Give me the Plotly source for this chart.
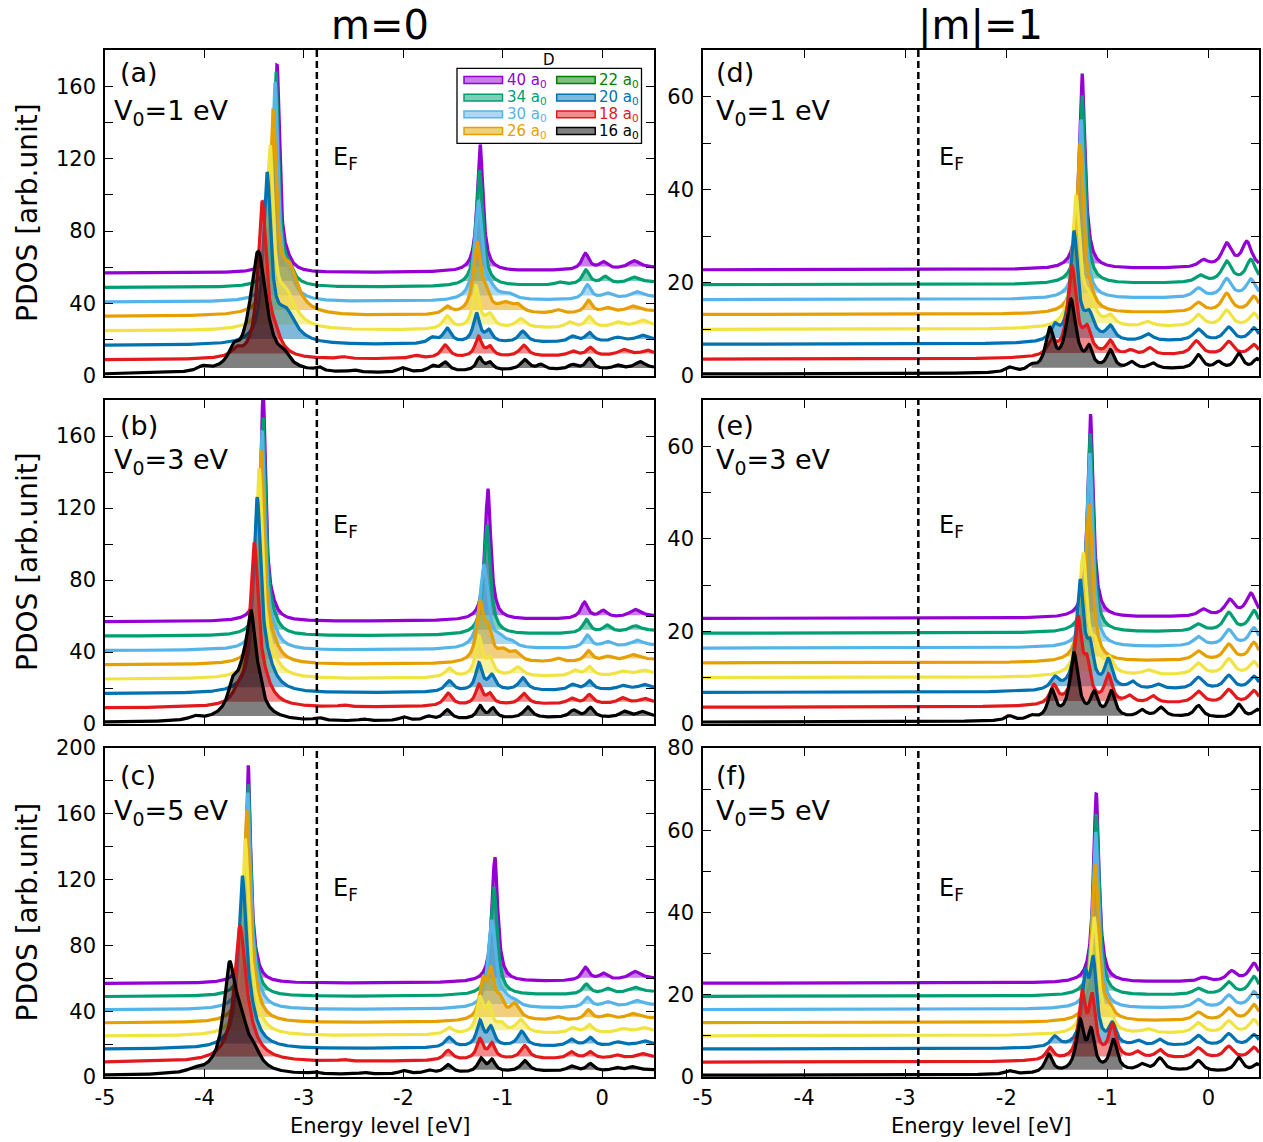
import numpy as np
import plotly.graph_objects as go

# ---------------------------------------------------------------- data ----
# curves from bottom to top: nanodot size D (in a0)
D_VALUES = [16, 18, 20, 22, 26, 30, 34, 40]
LINE_COLORS = ["#000000", "#E31A1C", "#0072B2", "#F0E442",
               "#E69F00", "#56B4E9", "#009E73", "#9400D3"]
# legend as printed in the original (22 a0 entry is green there)
LEGEND_COLORS = ["#000000", "#E31A1C", "#0072B2", "#008000",
                 "#E69F00", "#56B4E9", "#009E73", "#9400D3"]

E_FERMI = -2.87          # eV, dashed line
V0_VALUES = [1, 3, 5]    # eV

# vertical offsets between successive curves and background levels
OFFSET_STEP_M0 = 8.0
OFFSET_STEP_M1 = 3.2
BASE_M0 = 0.8
BASE_M1 = 0.4
BG_M0 = [2.2, 1.8, 1.4, 1.2, 1.0, 0.6, 0.8, 1.0]     # broad background near -0.6 eV
RISE_M0 = [2.5, 2.5, 2.5, 2.5, 2.5, 2.5, 2.5, 2.5]   # rise toward +0.5 eV
BG_M1 = [1.0, 0.8, 0.6, 0.5, 0.4, 0.3, 0.3, 0.3]

# peaks: (energy eV, height, half width) per curve
PEAKS_A = [
    [(-4.02, 2.5, 0.06), (-3.71, 8.0, 0.06), (-3.46, 67.0, 0.10), (-3.20, 5.0, 0.07), (-2.85, 2.0, 0.04),
     (-2.50, 1.2, 0.05), (-2.01, 2.5, 0.05), (-1.71, 3.0, 0.05), (-1.58, 5.0, 0.05), (-1.235, 7.0, 0.04),
     (-1.13, 4.0, 0.04), (-0.78, 5.5, 0.05), (-0.62, 2.5, 0.04), (-0.30, 2.5, 0.05), (-0.13, 6.0, 0.045),
     (0.15, 2.0, 0.05), (0.38, 3.5, 0.06)],
    [(-3.68, 4.0, 0.06), (-3.42, 84.0, 0.05), (-3.30, 10.0, 0.08), (-2.60, 1.0, 0.05), (-1.88, 1.5, 0.05),
     (-1.58, 7.0, 0.05), (-1.245, 11.0, 0.04), (-1.13, 5.0, 0.04), (-0.79, 6.0, 0.05), (-0.30, 2.5, 0.05),
     (-0.12, 4.5, 0.045), (0.21, 3.0, 0.06), (0.45, 2.0, 0.05)],
    [(-3.37, 91.0, 0.045), (-3.18, 16.0, 0.12), (-1.71, 3.0, 0.05), (-1.56, 8.0, 0.05), (-1.265, 16.0, 0.04),
     (-1.14, 6.0, 0.04), (-0.80, 6.0, 0.05), (-0.30, 3.0, 0.05), (-0.13, 5.0, 0.045), (0.15, 2.0, 0.06),
     (0.40, 2.5, 0.06)],
    [(-3.34, 96.0, 0.04), (-3.18, 18.0, 0.12), (-1.56, 7.0, 0.05), (-1.27, 23.0, 0.04), (-1.13, 7.0, 0.05),
     (-0.82, 5.0, 0.06), (-0.33, 3.0, 0.05), (-0.13, 6.0, 0.045), (0.15, 2.5, 0.06), (0.40, 3.0, 0.06)],
    [(-3.31, 106.0, 0.04), (-3.15, 24.0, 0.11), (-1.56, 4.0, 0.05), (-1.26, 38.0, 0.045), (-1.17, 8.0, 0.05),
     (-0.98, 5.0, 0.08), (-0.85, 4.0, 0.06), (-0.45, 2.0, 0.05), (-0.14, 7.0, 0.045), (0.05, 2.5, 0.06),
     (0.30, 3.0, 0.07)],
    [(-3.29, 118.0, 0.035), (-3.16, 12.0, 0.08), (-1.245, 54.0, 0.045), (-1.12, 4.0, 0.06), (-0.95, 3.0, 0.08),
     (-0.15, 8.0, 0.045), (0.05, 3.0, 0.06), (0.35, 3.0, 0.07)],
    [(-3.28, 117.0, 0.032), (-3.16, 8.0, 0.07), (-1.235, 64.0, 0.04), (-0.43, 1.5, 0.05), (-0.165, 8.0, 0.045),
     (0.03, 4.0, 0.05), (0.32, 3.0, 0.07)],
    [(-3.27, 114.0, 0.03), (-3.17, 4.0, 0.06), (-1.228, 70.0, 0.035), (-0.17, 9.0, 0.045), (0.01, 4.0, 0.05),
     (0.32, 4.0, 0.07)],
]

PEAKS_B = [
    [(-4.10, 2.0, 0.06), (-3.72, 10.0, 0.05), (-3.60, 24.0, 0.12), (-3.53, 42.0, 0.05), (-3.45, 8.0, 0.04),
     (-2.85, 1.5, 0.05), (-2.40, 1.0, 0.05), (-2.00, 2.0, 0.05), (-1.75, 2.0, 0.05), (-1.56, 5.5, 0.05),
     (-1.23, 7.0, 0.04), (-1.10, 5.5, 0.04), (-0.75, 6.0, 0.05), (-0.29, 4.0, 0.05), (-0.12, 5.5, 0.045),
     (0.22, 3.0, 0.05), (0.40, 2.5, 0.05)],
    [(-3.66, 6.0, 0.06), (-3.50, 87.0, 0.05), (-3.40, 8.0, 0.10), (-2.60, 1.0, 0.05), (-1.55, 7.0, 0.05),
     (-1.24, 11.0, 0.04), (-1.13, 5.5, 0.04), (-0.79, 6.0, 0.05), (-0.31, 3.0, 0.05), (-0.13, 5.0, 0.045),
     (0.20, 3.0, 0.05), (0.42, 2.0, 0.05)],
    [(-3.47, 104.0, 0.045), (-3.37, 10.0, 0.10), (-1.54, 6.0, 0.05), (-1.24, 15.0, 0.04), (-1.11, 8.0, 0.045),
     (-0.80, 7.0, 0.05), (-0.30, 3.0, 0.05), (-0.13, 5.0, 0.045), (0.20, 2.0, 0.05), (0.42, 2.0, 0.05)],
    [(-3.45, 112.0, 0.04), (-3.35, 10.0, 0.10), (-1.54, 5.0, 0.05), (-1.24, 21.5, 0.04), (-1.13, 9.0, 0.045),
     (-0.85, 5.0, 0.06), (-0.28, 3.0, 0.05), (-0.13, 5.0, 0.045), (0.20, 2.0, 0.06), (0.42, 2.0, 0.06)],
    [(-3.43, 115.0, 0.037), (-3.33, 9.0, 0.09), (-1.23, 30.0, 0.04), (-1.15, 16.0, 0.05), (-1.00, 5.0, 0.06),
     (-0.88, 5.0, 0.06), (-0.45, 2.0, 0.05), (-0.14, 6.0, 0.045), (0.05, 2.5, 0.06), (0.30, 3.0, 0.07)],
    [(-3.42, 119.0, 0.034), (-3.32, 7.0, 0.08), (-1.19, 46.0, 0.05), (-1.03, 4.0, 0.06), (-0.92, 3.0, 0.06),
     (-0.15, 7.0, 0.045), (0.05, 3.0, 0.06), (0.35, 3.0, 0.07)],
    [(-3.41, 119.0, 0.032), (-3.32, 6.0, 0.07), (-1.16, 61.0, 0.04), (-0.16, 7.5, 0.045), (0.05, 4.0, 0.05),
     (0.33, 3.0, 0.07)],
    [(-3.41, 126.0, 0.03), (-3.32, 4.0, 0.06), (-1.15, 73.0, 0.035), (-0.18, 9.0, 0.045), (0.01, 4.0, 0.05),
     (0.33, 4.0, 0.07)],
]

PEAKS_C = [
    [(-4.10, 2.0, 0.08), (-3.75, 58.0, 0.07), (-3.64, 25.0, 0.09), (-3.50, 8.0, 0.08), (-2.90, 1.0, 0.05),
     (-2.40, 1.0, 0.05), (-2.00, 2.0, 0.05), (-1.75, 2.0, 0.05), (-1.55, 5.0, 0.05), (-1.22, 8.0, 0.04),
     (-1.11, 7.0, 0.04), (-0.78, 6.5, 0.05), (-0.31, 3.0, 0.05), (-0.12, 4.5, 0.045), (0.14, 2.0, 0.05),
     (0.30, 2.0, 0.05)],
    [(-3.645, 65.0, 0.06), (-3.60, 20.0, 0.12), (-2.60, 1.0, 0.05), (-1.55, 6.0, 0.05), (-1.23, 12.0, 0.04),
     (-1.11, 9.0, 0.04), (-0.78, 8.0, 0.05), (-0.31, 4.0, 0.05), (-0.12, 4.0, 0.045), (0.14, 2.0, 0.05),
     (0.40, 2.0, 0.05)],
    [(-3.62, 92.0, 0.045), (-3.56, 18.0, 0.10), (-1.54, 6.0, 0.05), (-1.23, 15.0, 0.04), (-1.12, 11.0, 0.04),
     (-0.81, 9.0, 0.05), (-0.31, 4.0, 0.05), (-0.12, 5.0, 0.045), (0.15, 2.0, 0.05), (0.42, 2.0, 0.05)],
    [(-3.59, 108.0, 0.04), (-3.53, 16.0, 0.09), (-1.54, 4.0, 0.05), (-1.23, 20.0, 0.04), (-1.14, 15.0, 0.04),
     (-1.02, 5.0, 0.05), (-0.82, 8.0, 0.06), (-0.30, 3.0, 0.05), (-0.13, 5.0, 0.045), (0.20, 2.0, 0.06),
     (0.42, 2.0, 0.06)],
    [(-3.575, 122.0, 0.037), (-3.51, 12.0, 0.08), (-1.20, 21.0, 0.04), (-1.12, 26.0, 0.04), (-1.03, 10.0, 0.05),
     (-0.88, 9.0, 0.06), (-0.45, 2.0, 0.05), (-0.14, 6.0, 0.045), (0.05, 2.5, 0.06), (0.30, 3.0, 0.07)],
    [(-3.565, 126.0, 0.034), (-3.50, 10.0, 0.08), (-1.11, 53.0, 0.045), (-0.98, 4.0, 0.06), (-0.88, 3.0, 0.06),
     (-0.15, 6.0, 0.045), (0.05, 3.0, 0.06), (0.35, 3.0, 0.07)],
    [(-3.56, 125.0, 0.032), (-3.50, 7.0, 0.07), (-1.09, 66.0, 0.04), (-0.16, 6.0, 0.045), (0.05, 3.0, 0.05),
     (0.33, 3.0, 0.07)],
    [(-3.56, 130.0, 0.03), (-3.50, 5.0, 0.06), (-1.08, 76.0, 0.035), (-0.17, 8.0, 0.045), (0.01, 4.0, 0.05),
     (0.33, 4.5, 0.07)],
]

PEAKS_D = [
    [(-1.97, 1.0, 0.05), (-1.75, 1.0, 0.05), (-1.57, 8.5, 0.05), (-1.36, 15.0, 0.06), (-1.18, 4.0, 0.04),
     (-0.97, 4.0, 0.045), (-0.76, 1.5, 0.05), (-0.55, 1.2, 0.05), (-0.10, 3.0, 0.05), (0.10, 1.5, 0.05),
     (0.30, 3.5, 0.05), (0.48, 2.5, 0.05)],
    [(-1.55, 3.0, 0.05), (-1.35, 19.0, 0.05), (-1.20, 5.0, 0.05), (-0.97, 3.0, 0.045), (-0.77, 1.0, 0.05),
     (-0.58, 1.5, 0.05), (-0.12, 3.0, 0.06), (0.20, 3.0, 0.06), (0.45, 2.5, 0.06)],
    [(-1.52, 3.0, 0.05), (-1.33, 23.0, 0.045), (-1.18, 5.0, 0.06), (-0.97, 3.0, 0.05), (-0.60, 1.5, 0.06),
     (-0.10, 2.5, 0.06), (0.20, 3.0, 0.06), (0.45, 3.0, 0.06)],
    [(-1.31, 27.5, 0.045), (-1.18, 5.0, 0.07), (-0.97, 2.0, 0.05), (-0.60, 1.0, 0.06), (-0.10, 2.5, 0.06),
     (0.18, 3.5, 0.06), (0.45, 3.0, 0.06)],
    [(-1.27, 36.0, 0.04), (-1.17, 2.0, 0.06), (-0.10, 2.0, 0.06), (0.18, 4.0, 0.06), (0.45, 3.5, 0.06)],
    [(-1.26, 38.5, 0.038), (-0.10, 2.0, 0.06), (0.18, 4.0, 0.06), (0.42, 4.0, 0.06)],
    [(-1.25, 40.5, 0.036), (-0.08, 1.5, 0.06), (0.18, 4.5, 0.06), (0.42, 5.0, 0.06)],
    [(-1.25, 42.0, 0.035), (-0.05, 1.5, 0.06), (0.18, 5.0, 0.06), (0.38, 5.5, 0.06)],
]

PEAKS_E = [
    [(-1.97, 1.0, 0.05), (-1.75, 0.8, 0.05), (-1.55, 6.0, 0.045), (-1.33, 14.0, 0.05), (-1.13, 5.0, 0.045),
     (-0.96, 5.5, 0.045), (-0.66, 1.5, 0.05), (-0.47, 2.0, 0.05), (-0.10, 2.5, 0.05), (0.30, 3.0, 0.05),
     (0.48, 2.0, 0.05)],
    [(-1.53, 4.0, 0.045), (-1.29, 18.0, 0.045), (-1.20, 7.0, 0.04), (-0.99, 6.0, 0.045), (-0.78, 1.5, 0.05),
     (-0.55, 1.5, 0.05), (-0.10, 2.5, 0.06), (0.20, 3.0, 0.06), (0.45, 3.0, 0.06)],
    [(-1.52, 2.5, 0.05), (-1.27, 23.0, 0.045), (-1.17, 7.0, 0.04), (-0.99, 6.0, 0.045), (-0.75, 1.5, 0.05),
     (-0.50, 1.0, 0.05), (-0.10, 2.5, 0.06), (0.20, 3.0, 0.06), (0.45, 3.0, 0.06)],
    [(-1.24, 26.0, 0.045), (-1.12, 5.0, 0.05), (-0.98, 3.0, 0.05), (-0.60, 1.0, 0.06), (-0.10, 2.5, 0.06),
     (0.20, 3.5, 0.06), (0.45, 3.0, 0.06)],
    [(-1.28, 4.0, 0.05), (-1.18, 33.0, 0.04), (-0.10, 2.0, 0.06), (0.20, 3.5, 0.06), (0.45, 4.0, 0.06)],
    [(-1.175, 42.0, 0.037), (-0.10, 2.0, 0.06), (0.20, 3.5, 0.06), (0.45, 4.0, 0.06)],
    [(-1.17, 43.0, 0.035), (-0.10, 1.5, 0.06), (0.20, 4.0, 0.06), (0.45, 4.5, 0.06)],
    [(-1.167, 44.0, 0.033), (-0.05, 1.5, 0.06), (0.21, 3.5, 0.06), (0.42, 5.0, 0.06)],
]

PEAKS_F = [
    [(-1.97, 0.8, 0.05), (-1.58, 4.5, 0.045), (-1.27, 12.0, 0.045), (-1.16, 9.0, 0.04), (-0.94, 7.5, 0.045),
     (-0.66, 1.5, 0.05), (-0.48, 3.0, 0.05), (-0.10, 2.5, 0.05), (0.30, 3.5, 0.05), (0.48, 2.0, 0.05)],
    [(-1.57, 3.0, 0.045), (-1.25, 15.0, 0.04), (-1.15, 14.0, 0.04), (-0.95, 8.0, 0.045), (-0.70, 1.5, 0.05),
     (-0.48, 2.0, 0.05), (-0.10, 2.5, 0.06), (0.20, 3.0, 0.06), (0.45, 3.0, 0.06)],
    [(-1.52, 2.5, 0.05), (-1.22, 15.0, 0.04), (-1.14, 19.0, 0.04), (-0.95, 5.0, 0.045), (-0.70, 1.2, 0.05),
     (-0.48, 1.5, 0.05), (-0.10, 2.5, 0.06), (0.20, 3.0, 0.06), (0.45, 3.0, 0.06)],
    [(-1.22, 5.0, 0.05), (-1.13, 27.0, 0.045), (-0.98, 4.0, 0.05), (-0.60, 1.0, 0.06), (-0.10, 2.5, 0.06),
     (0.20, 3.0, 0.06), (0.45, 3.5, 0.06)],
    [(-1.12, 38.0, 0.04), (-0.98, 2.0, 0.05), (-0.10, 2.0, 0.06), (0.20, 3.0, 0.06), (0.45, 4.0, 0.06)],
    [(-1.115, 43.0, 0.037), (-0.10, 2.0, 0.06), (0.20, 3.0, 0.06), (0.45, 4.0, 0.06)],
    [(-1.11, 44.0, 0.035), (-0.10, 1.5, 0.06), (0.20, 3.0, 0.06), (0.45, 4.5, 0.06)],
    [(-1.11, 46.0, 0.033), (-0.05, 1.0, 0.06), (0.23, 2.5, 0.06), (0.45, 4.5, 0.06)],
]

X_TICKS = [-5, -4, -3, -2, -1, 0]
X_TICK_TEXT = ["-5", "-4", "-3", "-2", "-1", "0"]
Y_TICKS_180 = [0, 40, 80, 120, 160]
Y_TICKS_200 = [0, 40, 80, 120, 160, 200]
Y_TICKS_70 = [0, 20, 40, 60]
Y_TICKS_80 = [0, 20, 40, 60, 80]

# ------------------------------------------------------------- layout ----
W, H = 1263, 1142
FONT = "DejaVu Sans"
COL_PX = [(105, 654), (703, 1259)]
ROW_PX = [(50, 376), (400, 724), (748, 1077)]
X_RANGES = [(-5, 0.52), (-5, 0.5)]

PANELS = [
    dict(k=1, row=0, col=0, tag="(a)", v0=V0_VALUES[0], peaks=PEAKS_A, yr=180, yt=Y_TICKS_180, minor=20),
    dict(k=2, row=0, col=1, tag="(d)", v0=V0_VALUES[0], peaks=PEAKS_D, yr=70, yt=Y_TICKS_70, minor=10),
    dict(k=3, row=1, col=0, tag="(b)", v0=V0_VALUES[1], peaks=PEAKS_B, yr=180, yt=Y_TICKS_180, minor=20),
    dict(k=4, row=1, col=1, tag="(e)", v0=V0_VALUES[1], peaks=PEAKS_E, yr=70, yt=Y_TICKS_70, minor=10),
    dict(k=5, row=2, col=0, tag="(c)", v0=V0_VALUES[2], peaks=PEAKS_C, yr=200, yt=Y_TICKS_200, minor=20),
    dict(k=6, row=2, col=1, tag="(f)", v0=V0_VALUES[2], peaks=PEAKS_F, yr=80, yt=Y_TICKS_80, minor=10),
]


def rgba(hex_color, a):
    h = hex_color.lstrip("#")
    r, g, b = int(h[0:2], 16), int(h[2:4], 16), int(h[4:6], 16)
    return f"rgba({r},{g},{b},{a})"


def lorentz_sum(xs, peaks, base):
    y = np.full_like(xs, base)
    for p, a, g in peaks:
        y = y + a * g * g / ((xs - p) ** 2 + g * g)
    return y


def fill_segments(xs, y, level, cond):
    """Polygons between `level` and the curve over each run where cond holds."""
    fx, fy = [], []
    n = len(xs)
    i = 0
    while i < n:
        if cond[i]:
            j = i
            while j + 1 < n and cond[j + 1]:
                j += 1
            s, e = max(i - 1, 0), min(j + 1, n - 1)
            seg_x = list(xs[s:e + 1])
            seg_y = list(np.maximum(y[s:e + 1], level))
            seg_y[0] = level if not cond[s] else seg_y[0]
            seg_y[-1] = level if not cond[e] else seg_y[-1]
            fx += seg_x + [xs[e], xs[s], xs[s], None]
            fy += seg_y + [level, level, seg_y[0], None]
            i = j + 1
        else:
            i += 1
    return fx, fy


def px(x):
    return x / W


def py(y):
    return 1 - y / H


fig = go.Figure()
layout = dict(
    width=W, height=H, margin=dict(l=0, r=0, t=0, b=0),
    paper_bgcolor="white", plot_bgcolor="white", showlegend=False,
    font=dict(family=FONT, color="black"), template="none",
)
annotations = []
shapes = []

for P in PANELS:
    k = P["k"]
    xa = "x" if k == 1 else f"x{k}"
    ya = "y" if k == 1 else f"y{k}"
    left = P["col"] == 0
    xs = np.linspace(X_RANGES[P["col"]][0], X_RANGES[P["col"]][1], 1400)
    if left:
        step, base, fill_above = OFFSET_STEP_M0, BASE_M0, 4.4
        window = (-5.0, 1.0)
    else:
        step, base, fill_above = OFFSET_STEP_M1, BASE_M1, 1.76
        window = (-1.75, -0.85)
    mask = (xs >= window[0]) & (xs <= window[1])

    for i in reversed(range(len(D_VALUES))):
        pk = list(P["peaks"][i])
        if left:
            pk += [(-0.6, BG_M0[i], 1.0), (0.5, RISE_M0[i], 0.4)]
        else:
            pk += [(-0.3, BG_M1[i], 0.8)]
        off = step * i
        y = off + lorentz_sum(xs, pk, base)
        level = off + fill_above
        fx, fy = fill_segments(xs, y, level, (y > level) & mask)
        if fx:
            fig.add_trace(go.Scatter(
                x=fx, y=fy, fill="toself", fillcolor=rgba(LINE_COLORS[i], 0.5), mode="lines",
                line=dict(width=0), hoverinfo="skip", xaxis=xa, yaxis=ya, showlegend=False))
        fig.add_trace(go.Scatter(
            x=xs, y=y, mode="lines", line=dict(color=LINE_COLORS[i], width=3.2),
            name=f"{D_VALUES[i]} a0", hoverinfo="skip", xaxis=xa, yaxis=ya, showlegend=False))

    x0, x1 = COL_PX[P["col"]]
    y0, y1 = ROW_PX[P["row"]]
    common = dict(showline=True, linecolor="black", linewidth=1.5, mirror="allticks",
                  ticks="inside", ticklen=8, tickwidth=1.3, tickcolor="black",
                  showgrid=False, zeroline=False, fixedrange=True,
                  tickfont=dict(size=21, family=FONT, color="black"))
    layout["xaxis" if k == 1 else f"xaxis{k}"] = dict(
        domain=[px(x0), px(x1)], anchor=ya, range=list(X_RANGES[P["col"]]),
        tickmode="array", tickvals=X_TICKS, ticktext=X_TICK_TEXT, ticklabelstandoff=1,
        showticklabels=(P["row"] == 2), **common)
    layout["yaxis" if k == 1 else f"yaxis{k}"] = dict(
        domain=[py(y1), py(y0)], anchor=xa, range=[0, P["yr"]],
        tickmode="array", tickvals=P["yt"], ticklabelstandoff=3,
        minor=dict(dtick=P["minor"], tick0=0, ticks="inside", ticklen=8, tickwidth=1.3,
                   tickcolor="black", showgrid=False),
        **common)

    shapes.append(dict(type="line", xref=xa, yref=f"{ya} domain", x0=E_FERMI, x1=E_FERMI,
                       y0=0, y1=1, line=dict(color="black", width=2.5, dash="7px,4px")))

    tag_x = 118 if left else 714
    v_x = 112 if left else 714
    ef_x = 331 if left else 937
    tag_y = [72, 425, 775][P["row"]]
    v_y = [113, 462, 812][P["row"]]
    ef_y = [158, 526, 889][P["row"]]
    annotations.append(dict(text=P["tag"], x=px(tag_x), y=py(tag_y), xref="paper", yref="paper",
                            xanchor="left", yanchor="middle", showarrow=False,
                            font=dict(size=27, family=FONT, color="black")))
    annotations.append(dict(text=f"V<sub>0</sub>={P['v0']} eV", x=px(v_x), y=py(v_y), xref="paper",
                            yref="paper", xanchor="left", yanchor="middle", showarrow=False,
                            font=dict(size=27, family=FONT, color="black")))
    annotations.append(dict(text="E<sub>F</sub>", x=px(ef_x), y=py(ef_y), xref="paper", yref="paper",
                            xanchor="left", yanchor="middle", showarrow=False,
                            font=dict(size=24, family=FONT, color="black")))
    if left:
        annotations.append(dict(text="PDOS [arb.unit]", x=px(27), y=py((y0 + y1) / 2), xref="paper",
                                yref="paper", xanchor="center", yanchor="middle", textangle=-90,
                                showarrow=False, font=dict(size=28, family=FONT, color="black")))
    if P["row"] == 2:
        annotations.append(dict(text="Energy level [eV]", x=px((x0 + x1) / 2), y=py(1126), xref="paper",
                                yref="paper", xanchor="center", yanchor="middle", showarrow=False,
                                font=dict(size=21, family=FONT, color="black")))

# column titles
annotations.append(dict(text="m=0", x=px(380), y=py(0), xref="paper", yref="paper", xanchor="center",
                        yanchor="top", showarrow=False, font=dict(size=40, family=FONT, color="black")))
annotations.append(dict(text="|m|=1", x=px(980), y=py(0), xref="paper", yref="paper", xanchor="center",
                        yanchor="top", showarrow=False, font=dict(size=40, family=FONT, color="black")))

# legend (two columns, drawn as in the original)
LEG_ORDER = [7, 6, 5, 4, 3, 2, 1, 0]
LEG_ROWS = [80, 97.7, 114.3, 131]
shapes.append(dict(type="rect", xref="paper", yref="paper", x0=px(457), x1=px(641.5),
                   y0=py(143.3), y1=py(68.3), line=dict(color="black", width=1.3), fillcolor="white"))
annotations.append(dict(text="D", x=px(549), y=py(60), xref="paper", yref="paper", xanchor="center",
                        yanchor="middle", showarrow=False, font=dict(size=15, family=FONT, color="black")))
for j, i in enumerate(LEG_ORDER):
    c = j // 4
    r = j % 4
    sx0 = [464, 556.7][c]
    tx = [505, 597][c]
    yc = LEG_ROWS[r]
    shapes.append(dict(type="rect", xref="paper", yref="paper", x0=px(sx0), x1=px(sx0 + 38.5),
                       y0=py(yc + 3.4), y1=py(yc - 3.4),
                       line=dict(color=LEGEND_COLORS[i], width=1.5),
                       fillcolor=rgba(LEGEND_COLORS[i], 0.5)))
    annotations.append(dict(text=f"{D_VALUES[i]} a<sub>0</sub>", x=px(tx), y=py(yc), xref="paper",
                            yref="paper", xanchor="left", yanchor="middle", showarrow=False,
                            font=dict(size=15, family=FONT, color=LEGEND_COLORS[i])))

layout["annotations"] = annotations
layout["shapes"] = shapes
fig.update_layout(**layout)
fig.write_html("out.html")
